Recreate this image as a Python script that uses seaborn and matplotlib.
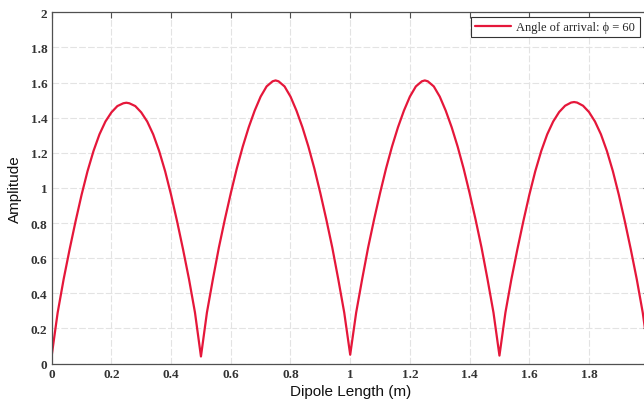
import numpy as np
import pandas as pd
import matplotlib
matplotlib.use("Agg")
import matplotlib.pyplot as plt
import seaborn as sns

# ---- data ----
dipole_length = [
    0.00, 0.02, 0.04, 0.06, 0.08, 0.10, 0.12, 0.14, 0.16, 0.18,
    0.20, 0.22, 0.24, 0.25, 0.26, 0.28, 0.30, 0.32, 0.34, 0.36, 0.38,
    0.40, 0.42, 0.44, 0.46, 0.48, 0.50, 0.52, 0.54, 0.56, 0.58,
    0.60, 0.62, 0.64, 0.66, 0.68, 0.70, 0.72, 0.74, 0.75, 0.76, 0.78,
    0.80, 0.82, 0.84, 0.86, 0.88, 0.90, 0.92, 0.94, 0.96, 0.98,
    1.00, 1.02, 1.04, 1.06, 1.08, 1.10, 1.12, 1.14, 1.16, 1.18,
    1.20, 1.22, 1.24, 1.25, 1.26, 1.28, 1.30, 1.32, 1.34, 1.36, 1.38,
    1.40, 1.42, 1.44, 1.46, 1.48, 1.50, 1.52, 1.54, 1.56, 1.58,
    1.60, 1.62, 1.64, 1.66, 1.68, 1.70, 1.72, 1.74, 1.75, 1.76, 1.78,
    1.80, 1.82, 1.84, 1.86, 1.88, 1.90, 1.92, 1.94, 1.96, 1.98,
    2.00,
]
amplitude = [
    # arch 1 (0 .. 0.48)
    0.045, 0.29, 0.48, 0.65, 0.81, 0.96, 1.095, 1.21, 1.305, 1.378,
    1.43, 1.466, 1.482, 1.485, 1.482, 1.466, 1.43, 1.378, 1.305, 1.21, 1.095,
    0.96, 0.81, 0.65, 0.48, 0.29,
    # dip at 0.5
    0.04,
    # arch 2 (0.52 .. 0.98)
    0.29, 0.48, 0.66, 0.82, 0.97, 1.11, 1.235, 1.345, 1.44, 1.52,
    1.578, 1.607, 1.612, 1.607, 1.578, 1.52, 1.44, 1.345, 1.235, 1.11, 0.97,
    0.82, 0.66, 0.48, 0.29,
    # dip at 1.0
    0.05,
    # arch 3 (1.02 .. 1.48)
    0.29, 0.48, 0.66, 0.82, 0.97, 1.11, 1.235, 1.345, 1.44, 1.52,
    1.578, 1.607, 1.612, 1.607, 1.578, 1.52, 1.44, 1.345, 1.235, 1.11, 0.97,
    0.82, 0.66, 0.48, 0.29,
    # dip at 1.5
    0.045,
    # arch 4 (1.52 .. 1.98)
    0.29, 0.48, 0.65, 0.81, 0.96, 1.095, 1.21, 1.305, 1.378, 1.432,
    1.468, 1.486, 1.489, 1.486, 1.468, 1.432, 1.378, 1.305, 1.21, 1.095, 0.96,
    0.81, 0.65, 0.48, 0.29,
    # dip at 2.0
    0.045,
]
x_ticks = [0, 0.2, 0.4, 0.6, 0.8, 1.0, 1.2, 1.4, 1.6, 1.8]
x_tick_labels = ["0", "0.2", "0.4", "0.6", "0.8", "1", "1.2", "1.4", "1.6", "1.8"]
y_ticks = [0, 0.2, 0.4, 0.6, 0.8, 1.0, 1.2, 1.4, 1.6, 1.8, 2.0]
y_tick_labels = ["0", "0.2", "0.4", "0.6", "0.8", "1", "1.2", "1.4", "1.6", "1.8", "2"]
series_label = "Angle of arrival: \u03d5 = 60"

df = pd.DataFrame({"Dipole Length (m)": dipole_length, "Amplitude": amplitude})

# ---- styling ----
sns.set_style("white")
plt.rcParams["font.family"] = ["Liberation Sans", "DejaVu Sans"]

W, H = 644, 406
fig = plt.figure(figsize=(W / 100, H / 100), dpi=100)
ax = fig.add_axes([51.7 / W, (H - 364.5) / H, 597.0 / W, 351.2 / H])

line_color = "#e5173a"
sns.lineplot(data=df, x="Dipole Length (m)", y="Amplitude", ax=ax,
             color=line_color, linewidth=1.6, label=series_label,
             estimator=None, sort=False)

ax.set_xlim(0, 2)
ax.set_ylim(0, 2)
ax.set_xticks(x_ticks)
ax.set_xticklabels(x_tick_labels)
ax.set_yticks(y_ticks)
ax.set_yticklabels(y_tick_labels)

serif = ["Liberation Serif", "DejaVu Serif"]
for lab in ax.get_xticklabels() + ax.get_yticklabels():
    lab.set_family(serif)
    lab.set_fontsize(9.5)
    lab.set_fontweight("bold")
    lab.set_color("#333333")

spine_color = "#505050"
for s in ax.spines.values():
    s.set_color(spine_color)
    s.set_linewidth(0.9)
ax.tick_params(direction="in", length=4.5, width=0.8, color=spine_color,
               top=True, right=True, pad=3)

ax.grid(True, color="#e3e3e3", linewidth=0.8, linestyle=(0, (6, 2)))
ax.set_axisbelow(True)

ax.set_xlabel("Dipole Length (m)", fontsize=11, color="#111111", labelpad=3)
ax.set_ylabel("Amplitude", fontsize=11, color="#111111", labelpad=6)

leg = ax.legend(loc="upper right", bbox_to_anchor=(639.5 / W, 1 - 17.7 / H),
                bbox_transform=fig.transFigure, borderaxespad=0,
                prop={"family": serif, "size": 9}, frameon=True, fancybox=False,
                framealpha=1, edgecolor="#333333", handlelength=2.9,
                handletextpad=0.4, borderpad=0.35)
leg.get_frame().set_linewidth(0.8)

fig.savefig("out.png", dpi=100)
